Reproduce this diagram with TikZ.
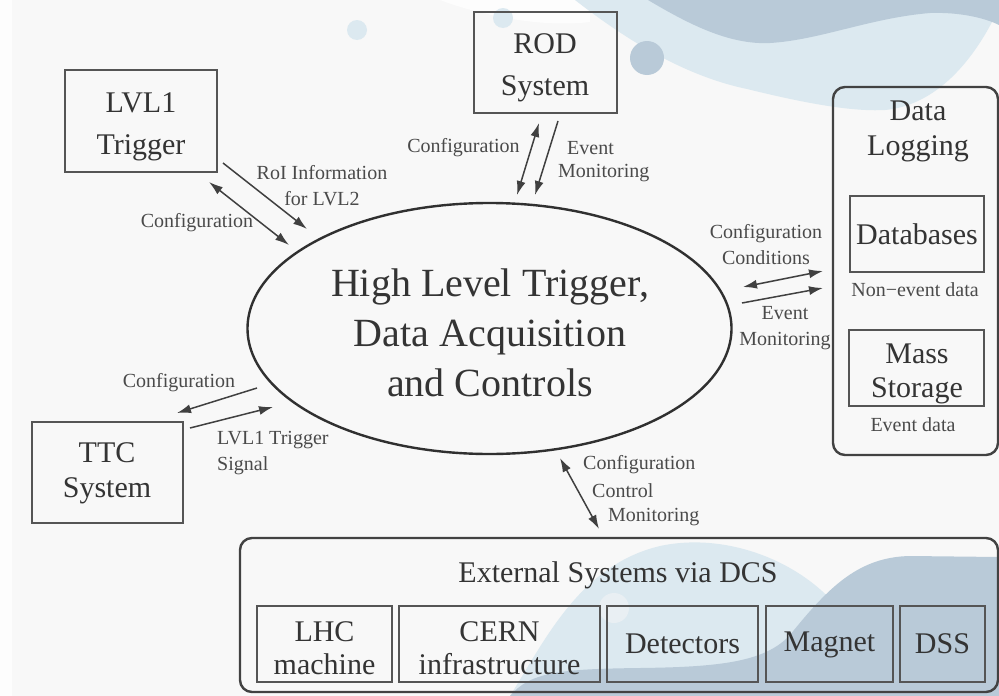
\documentclass[tikz,border=0pt]{standalone}
\usepackage{fontspec}
\setmainfont{Liberation Serif}
\usetikzlibrary{arrows.meta,shapes.geometric}
\definecolor{bg}{HTML}{F8F8F8}
\definecolor{palew}{HTML}{FDFDFD}
\definecolor{lblue}{HTML}{DCE9F0}
\definecolor{dblue}{HTML}{B9CAD8}
\definecolor{pcirc}{HTML}{E9EFF3}
\definecolor{boxline}{HTML}{555555}
\definecolor{contline}{HTML}{424242}
\definecolor{ellline}{HTML}{303030}
\definecolor{txt}{HTML}{343434}
\definecolor{lbltxt}{HTML}{4A4A4A}
\definecolor{arr}{HTML}{404040}
\begin{document}
\begin{tikzpicture}[x=1pt,y=-1pt,
  box/.style={draw=boxline, line width=1.6pt, inner sep=0pt},
  cont/.style={draw=contline, line width=2.4pt, rounded corners=12pt},
  btxt/.style={text=txt, align=center, inner sep=0pt, font=\fontsize{30}{42}\selectfont},
  lbl/.style={text=lbltxt, inner sep=0pt, align=center, font=\fontsize{20}{26}\selectfont},
  conn/.style={draw=arr, line width=1.5pt, -{Latex[length=14pt,width=9pt]}},
  bconn/.style={draw=arr, line width=1.5pt, {Latex[length=14pt,width=9pt]}-{Latex[length=14pt,width=9pt]}}
]
\fill[bg] (0,0) rectangle (999,696);
\useasboundingbox (0,0) rectangle (999,696);
% decorations
\fill[palew] (0,0) rectangle (12,696);
\fill[palew] (440,0) .. controls (480,15) and (540,28) .. (590,22) -- (590,0) -- cycle;
\fill[lblue] (575,0) .. controls (620,35) and (680,75) .. (747,89) .. controls (800,102) and (850,112) .. (885,110) .. controls (930,106) and (970,70) .. (999,8) -- (999,0) -- cycle;
\fill[dblue] (648,0) .. controls (690,25) and (730,45) .. (770,43) .. controls (820,40) and (870,18) .. (930,13) .. controls (960,12) and (985,18) .. (999,25) -- (999,0) -- cycle;
\fill[dblue] (647,58) circle (17pt);
\fill[lblue] (357,30) circle (10pt);
\fill[lblue] (503,18) circle (10pt);
\fill[lblue] (510,696) .. controls (545,640) and (580,565) .. (660,546) .. controls (725,532) and (800,560) .. (840,610) -- (840,696) -- cycle;
\fill[dblue] (510,696) .. controls (530,672) and (560,669) .. (640,668) .. controls (720,667) and (765,662) .. (790,635) .. controls (830,585) and (860,557) .. (910,556) -- (999,557) -- (999,696) -- cycle;
\fill[pcirc] (614,608) circle (15pt);

% main nodes
\node[box, minimum width=152pt, minimum height=102pt] (lvl1) at (141,121) {};
\node[btxt] (lvl1t) at (141,127) {LVL1\\Trigger};
\node[box, minimum width=143pt, minimum height=101pt] (rod) at (545.5,62.5) {};
\node[btxt] (rodt) at (545,68) {ROD\\System};
\node[box, minimum width=151pt, minimum height=101pt] (ttc) at (107.5,472.5) {};
\node[btxt, font=\fontsize{30}{35}\selectfont] (ttct) at (107,473) {TTC\\System};

\node[ellipse, draw=ellline, line width=2.4pt, minimum width=484pt, minimum height=251pt, inner sep=0pt] (hlt) at (489.5,328.5) {};
\node[btxt, font=\fontsize{40}{50}\selectfont] (hltt) at (490,333) {High Level Trigger,\\Data Acquisition\\and Controls};

% data logging
\draw[cont] (833,87) rectangle (998,455);
\node[btxt, font=\fontsize{30}{35}\selectfont] (dlt) at (918,131) {Data\\Logging};
\node[box, minimum width=134pt, minimum height=76pt, btxt] (db) at (917,234) {Databases};
\node[lbl, anchor=base] (dbl) at (915,296.5) {Non\textminus event data};
\node[box, minimum width=135pt, minimum height=76pt] (ms) at (916.5,368) {};
\node[btxt, font=\fontsize{30}{34}\selectfont] (mst) at (917,374) {Mass\\Storage};
\node[lbl, anchor=base] (msl) at (913,431) {Event data};

% external systems
\draw[cont] (240,538) rectangle (998,692);
\node[btxt, anchor=base] (ext) at (618,582) {External Systems via DCS};
\node[box, minimum width=135pt, minimum height=76pt] (lhc) at (324.5,644) {};
\node[btxt, font=\fontsize{30}{33}\selectfont] (lhct) at (324.5,648) {LHC\\machine};
\node[box, minimum width=201pt, minimum height=76pt] (cern) at (499.5,644) {};
\node[btxt, font=\fontsize{30}{33}\selectfont] (cernt) at (499.5,648) {CERN\\infrastructure};
\node[box, minimum width=151pt, minimum height=76pt, btxt] (det) at (682.5,644) {Detectors};
\node[box, minimum width=127pt, minimum height=76pt] (mag) at (829.5,644) {};
\node[btxt, anchor=base] (magt) at (829.5,651) {Magnet};
\node[box, minimum width=85pt, minimum height=76pt, btxt] (dss) at (942.5,644) {DSS};

% arrow end points
\coordinate (a1s) at (209,182); \coordinate (a1e) at (289,245);
\coordinate (a2s) at (223,163); \coordinate (a2e) at (307,229);
\coordinate (a3s) at (539,123); \coordinate (a3e) at (517,195);
\coordinate (a4s) at (558,121); \coordinate (a4e) at (535,195);
\coordinate (a5s) at (743,287); \coordinate (a5e) at (823,271);
\coordinate (a6s) at (742,303); \coordinate (a6e) at (823,288);
\coordinate (a7s) at (257,388); \coordinate (a7e) at (177,413);
\coordinate (a8s) at (190,428); \coordinate (a8e) at (273,407);
\coordinate (a9s) at (560,458); \coordinate (a9e) at (599,529);

\draw[bconn] (a1s) -- (a1e);
\draw[conn] (a2s) -- (a2e);
\draw[bconn] (a3s) -- (a3e);
\draw[conn] (a4s) -- (a4e);
\draw[bconn] (a5s) -- (a5e);
\draw[conn] (a6s) -- (a6e);
\draw[conn] (a7s) -- (a7e);
\draw[conn] (a8s) -- (a8e);
\draw[bconn] (a9s) -- (a9e);

% labels
\node[lbl] (l1) at (197,223) {Configuration};
\node[lbl] (l2) at (322,186) {RoI Information\\for LVL2};
\node[lbl] (l3) at (463.5,148) {Configuration};
\node[lbl, anchor=west] (l4a) at (567,148) {Event};
\node[lbl, anchor=west] (l4b) at (558,173) {Monitoring};
\node[lbl] (l5) at (766,245) {Configuration\\Conditions};
\node[lbl] (l6) at (785,328) {Event\\Monitoring};
\node[lbl] (l7) at (179,383) {Configuration};
\node[lbl, anchor=west, align=left] (l8) at (217,453) {LVL1 Trigger\\Signal};
\node[lbl, anchor=west] (l9a) at (583,465) {Configuration};
\node[lbl, anchor=west] (l9b) at (592,491) {Control};
\node[lbl, anchor=west] (l9c) at (608,517) {Monitoring};
\end{tikzpicture}
\end{document}
